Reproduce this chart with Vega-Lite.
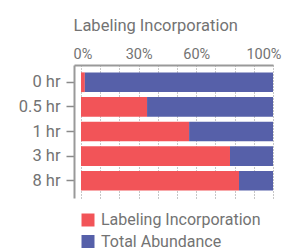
{
  "$schema": "https://vega.github.io/schema/vega-lite/v6.json",
  "width": 199,
  "height": 133,
  "autosize": {"type": "none"},
  "padding": {"left": 74, "top": 65, "right": 14, "bottom": 53},
  "data": {
    "values": [
      {"time": "0 hr", "series": "Labeling Incorporation", "value": 2},
      {"time": "0 hr", "series": "Total Abundance", "value": 98},
      {"time": "0.5 hr", "series": "Labeling Incorporation", "value": 34.4},
      {"time": "0.5 hr", "series": "Total Abundance", "value": 65.6},
      {"time": "1 hr", "series": "Labeling Incorporation", "value": 56.3},
      {"time": "1 hr", "series": "Total Abundance", "value": 43.7},
      {"time": "3 hr", "series": "Labeling Incorporation", "value": 77.6},
      {"time": "3 hr", "series": "Total Abundance", "value": 22.4},
      {"time": "8 hr", "series": "Labeling Incorporation", "value": 82.3},
      {"time": "8 hr", "series": "Total Abundance", "value": 17.7}
    ]
  },
  "mark": {"type": "bar"},
  "encoding": {
    "y": {
      "field": "time",
      "type": "nominal",
      "sort": ["0 hr", "0.5 hr", "1 hr", "3 hr", "8 hr"],
      "scale": {"paddingInner": 0.2, "paddingOuter": 0.3},
      "axis": {
        "title": null,
        "labelFontSize": 16.5,
        "labelColor": "#737373",
        "labelPadding": 6,
        "tickSize": 8,
        "tickColor": "#8a8a8a",
        "tickWidth": 1.5,
        "domainColor": "#999999",
        "domainWidth": 2
      }
    },
    "x": {
      "field": "value",
      "type": "quantitative",
      "stack": "zero",
      "scale": {"domain": [-3.65, 100], "nice": false, "zero": false},
      "axis": {
        "orient": "top",
        "values": [0, 10, 20, 30, 40, 50, 60, 70, 80, 90, 100],
        "labelExpr": "(datum.value == 0 || datum.value == 30 || datum.value == 60 || datum.value == 100) ? datum.value + '%' : ''",
        "labelOverlap": false,
        "ticks": false,
        "labelPadding": 7,
        "labelBaseline": "alphabetic",
        "labelFontSize": 14.5,
        "labelColor": "#737373",
        "labelFlush": 8,
        "labelFlushOffset": 8,
        "grid": true,
        "gridDash": [1, 2],
        "gridColor": "#8f8f8f",
        "domainColor": "#999999",
        "domainWidth": 2,
        "title": "Labeling Incorporation",
        "titleFontSize": 16.5,
        "titleFontWeight": "normal",
        "titleColor": "#737373",
        "titleAnchor": "start",
        "titleAlign": "left",
        "titleBaseline": "alphabetic",
        "titleX": -1,
        "titleY": -35
      }
    },
    "color": {
      "field": "series",
      "type": "nominal",
      "scale": {
        "domain": ["Labeling Incorporation", "Total Abundance"],
        "range": ["#f25458", "#5660a9"]
      },
      "legend": {
        "title": null,
        "orient": "none",
        "legendX": 6,
        "legendY": 147,
        "direction": "vertical",
        "symbolType": "square",
        "symbolSize": 169,
        "symbolStrokeWidth": 0,
        "labelFontSize": 16,
        "labelColor": "#737373",
        "labelLimit": 0,
        "labelOffset": 5,
        "rowPadding": 5.5,
        "padding": 0
      }
    }
  },
  "config": {
    "view": {"stroke": null},
    "font": "Roboto"
  }
}
